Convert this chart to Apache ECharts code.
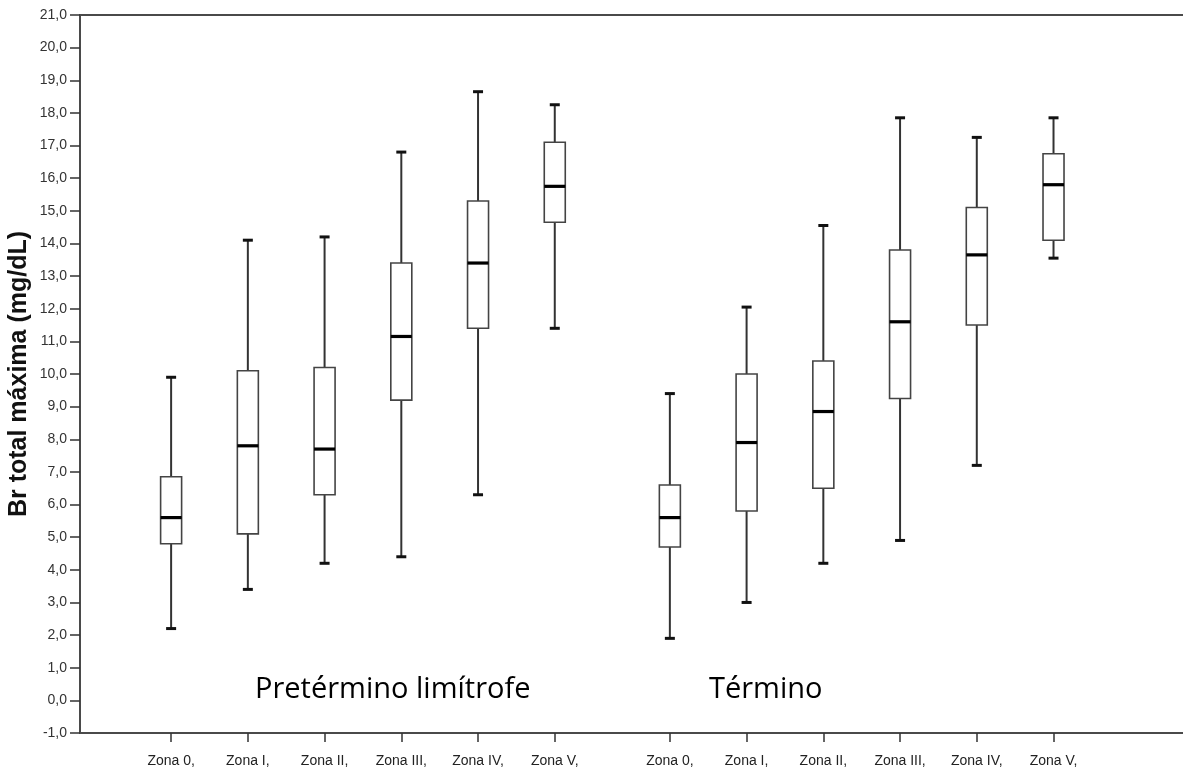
<!DOCTYPE html>
<html>
<head>
<meta charset="utf-8">
<script src="https://cdn.jsdelivr.net/npm/echarts@6/dist/echarts.min.js"></script>
<style>
html,body{margin:0;padding:0;background:#fff;}
#chart{width:1183px;height:773px;}
</style>
</head>
<body>
<div id="chart"></div>
<script>
// ---- data ----
const groups = ['Pretérmino limítrofe', 'Término'];
const zones = ['Zona 0,', 'Zona I,', 'Zona II,', 'Zona III,', 'Zona IV,', 'Zona V,'];
// each entry: [min, Q1, median, Q3, max]
const pretermino = [
  [2.2, 4.8, 5.6, 6.85, 9.9],
  [3.4, 5.1, 7.8, 10.1, 14.1],
  [4.2, 6.3, 7.7, 10.2, 14.2],
  [4.4, 9.2, 11.15, 13.4, 16.8],
  [6.3, 11.4, 13.4, 15.3, 18.65],
  [11.4, 14.65, 15.75, 17.1, 18.25]
];
const termino = [
  [1.9, 4.7, 5.6, 6.6, 9.4],
  [3.0, 5.8, 7.9, 10.0, 12.05],
  [4.2, 6.5, 8.85, 10.4, 14.55],
  [4.9, 9.25, 11.6, 13.8, 17.85],
  [7.2, 11.5, 13.65, 15.1, 17.25],
  [13.55, 14.1, 15.8, 16.75, 17.85]
];
const yTicks = { min: -1, max: 21, interval: 1 };

// ---- layout of category slots (fine slots so groups have a gap) ----
const SLOTS = 115, FIRST = 9, STEP = 8, GROUP_STEP = 52;
const categories = new Array(SLOTS).fill('');
const boxData = [];
[pretermino, termino].forEach((grp, g) => {
  grp.forEach((v, z) => {
    const idx = FIRST + g * GROUP_STEP + z * STEP;
    categories[idx] = zones[z];
    boxData.push([idx, v[0], v[1], v[2], v[3], v[4]]);
  });
});

const chart = echarts.init(document.getElementById('chart'));
const showIdx = (i, v) => v !== '';
const halfW = 10.5, capW = 5;
const axisColor = '#4a4a4a';
const annFont = { fontSize: 29, fill: '#000', fontFamily: 'Open Sans, Noto Sans, sans-serif' };

chart.setOption({
  animation: false,
  grid: { left: 80, right: 0, top: 15, bottom: 40, containLabel: false, outerBoundsMode: 'none' },
  xAxis: [{
    type: 'category',
    data: categories,
    boundaryGap: true,
    axisLine: { show: true, onZero: false, lineStyle: { color: axisColor, width: 2 } },
    axisTick: { show: true, interval: showIdx, alignWithLabel: true, length: 9, lineStyle: { color: '#333', width: 1.5 } },
    axisLabel: { interval: showIdx, margin: 21, fontSize: 14, color: '#222', fontFamily: 'Liberation Sans, Arial, sans-serif' },
    splitLine: { show: false }
  }, {
    type: 'category',
    data: categories,
    position: 'top',
    axisLine: { show: true, onZero: false, lineStyle: { color: axisColor, width: 2 } },
    axisTick: { show: false },
    axisLabel: { show: false },
    splitLine: { show: false }
  }],
  yAxis: {
    type: 'value',
    min: yTicks.min, max: yTicks.max, interval: yTicks.interval,
    name: 'Br total máxima (mg/dL)',
    nameLocation: 'middle',
    nameRotate: 90,
    nameGap: 48,
    nameMoveOverlap: false,
    nameTextStyle: { fontSize: 25, fontWeight: 'bold', color: '#111', fontFamily: 'Liberation Sans, Arial, sans-serif' },
    axisLine: { show: true, onZero: false, lineStyle: { color: axisColor, width: 2 } },
    axisTick: { show: true, length: 10, lineStyle: { color: '#333', width: 1.5 } },
    axisLabel: { margin: 13, fontSize: 14, color: '#333', fontFamily: 'Liberation Sans, Arial, sans-serif',
      formatter: v => v.toFixed(1).replace('.', ',') },
    splitLine: { show: false }
  },
  series: [{
    type: 'custom',
    xAxisIndex: 0,
    data: boxData,
    encode: { x: 0, y: [1, 2, 3, 4, 5] },
    renderItem: function (params, api) {
      const x = api.value(0);
      const pMin = api.coord([x, api.value(1)]);
      const pQ1 = api.coord([x, api.value(2)]);
      const pMed = api.coord([x, api.value(3)]);
      const pQ3 = api.coord([x, api.value(4)]);
      const pMax = api.coord([x, api.value(5)]);
      const cx = pMed[0];
      const whisker = { stroke: '#333', lineWidth: 2 };
      const cap = { stroke: '#111', lineWidth: 3 };
      return {
        type: 'group',
        children: [
          { type: 'line', shape: { x1: cx, y1: pMax[1], x2: cx, y2: pQ3[1] }, style: whisker },
          { type: 'line', shape: { x1: cx, y1: pQ1[1], x2: cx, y2: pMin[1] }, style: whisker },
          { type: 'line', shape: { x1: cx - capW, y1: pMax[1], x2: cx + capW, y2: pMax[1] }, style: cap },
          { type: 'line', shape: { x1: cx - capW, y1: pMin[1], x2: cx + capW, y2: pMin[1] }, style: cap },
          { type: 'rect', shape: { x: cx - halfW, y: pQ3[1], width: 2 * halfW, height: pQ1[1] - pQ3[1] },
            style: { fill: '#fff', stroke: '#444', lineWidth: 1.6 } },
          { type: 'line', shape: { x1: cx - halfW, y1: pMed[1], x2: cx + halfW, y2: pMed[1] },
            style: { stroke: '#000', lineWidth: 3.2 } }
        ]
      };
    }
  }],
  graphic: [
    { type: 'text', left: 255, top: 675, style: Object.assign({ text: groups[0] }, annFont) },
    { type: 'text', left: 709, top: 675, style: Object.assign({ text: groups[1] }, annFont) }
  ]
});
</script>
</body>
</html>
